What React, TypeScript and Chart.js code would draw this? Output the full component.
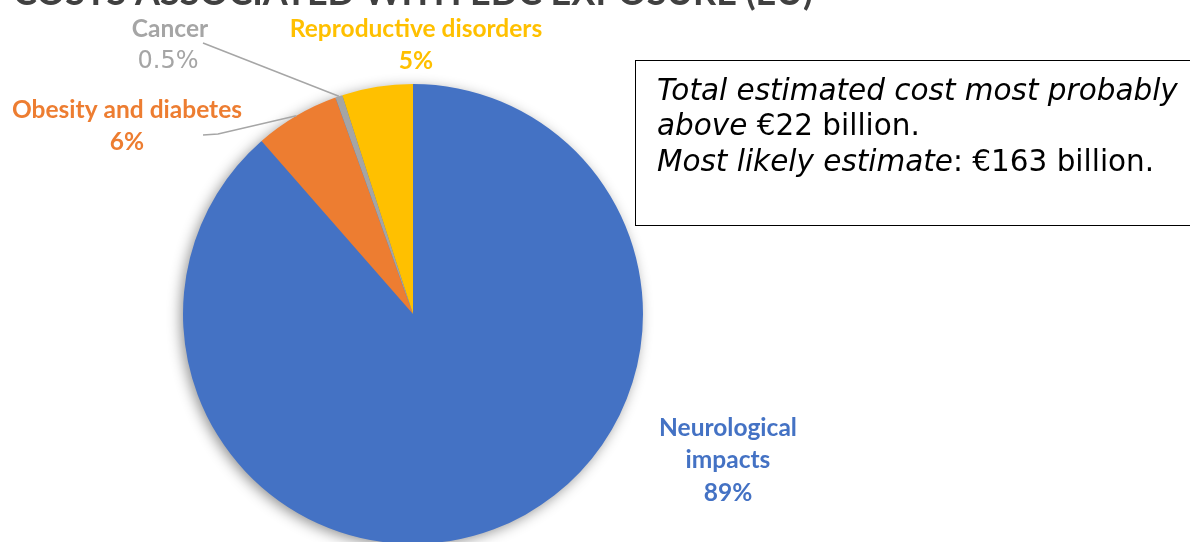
import React, { useEffect, useRef } from "react";
import { Chart, registerables } from "chart.js";

Chart.register(...registerables);

// ---- data ----
const categories = ["Neurological impacts", "Obesity and diabetes", "Cancer", "Reproductive disorders"];
const shares = [89, 6, 0.5, 5];
const shareLabels = ["89%", "6%", "0.5%", "5%"];
const sliceColors = ["#4472C4", "#ED7D31", "#A5A5A5", "#FFC000"];
const labelLines = [["Neurological", "impacts"], ["Obesity and diabetes"], ["Cancer"], ["Reproductive disorders"]];
const titleText = "COSTS ASSOCIATED WITH EDC EXPOSURE (EU)";
const noteLines: { t: string; i: boolean }[][] = [
  [{ t: "Total estimated cost most probably", i: true }],
  [{ t: "above", i: true }, { t: " €22 billion.", i: false }],
  [{ t: "Most likely estimate", i: true }, { t: ": €163 billion.", i: false }],
];

const W = 1190;
const H = 560;

const decorPlugin = {
  id: "decor",
  beforeDatasetsDraw(chart: any) {
    const ctx = chart.ctx;
    const arc = chart.getDatasetMeta(0).data[0];
    if (!arc) return;
    ctx.save();
    ctx.shadowColor = "rgba(0,0,0,0.45)";
    ctx.shadowBlur = 14;
    ctx.shadowOffsetX = -3;
    ctx.shadowOffsetY = 3;
    ctx.fillStyle = "#4472C4";
    ctx.beginPath();
    ctx.arc(arc.x, arc.y, arc.outerRadius - 1, 0, Math.PI * 2);
    ctx.fill();
    ctx.restore();
  },
  afterDatasetsDraw(chart: any) {
    const ctx = chart.ctx;
    const meta = chart.getDatasetMeta(0);
    const edge = (i: number) => {
      const a = meta.data[i];
      const mid = (a.startAngle + a.endAngle) / 2;
      return [a.x + a.outerRadius * Math.cos(mid), a.y + a.outerRadius * Math.sin(mid)];
    };
    ctx.save();
    // leader lines
    ctx.strokeStyle = "#A6A6A6";
    ctx.lineWidth = 1.5;
    let p = edge(2);
    ctx.beginPath();
    ctx.moveTo(203, 43);
    ctx.lineTo(p[0], p[1]);
    ctx.stroke();
    p = edge(1);
    ctx.beginPath();
    ctx.moveTo(203, 135);
    ctx.lineTo(218, 134);
    ctx.lineTo(p[0], p[1]);
    ctx.stroke();

    // data labels
    const anchors = [
      [728, 428],
      [127, 110],
      [170, 29],
      [416, 29],
    ];
    const lh = 32.5;
    ctx.textAlign = "center";
    ctx.textBaseline = "middle";
    for (let i = 0; i < categories.length; i++) {
      const [cx, cy] = anchors[i];
      ctx.fillStyle = sliceColors[i];
      ctx.font = "bold 24.5px Lato";
      const lines = labelLines[i];
      lines.forEach((ln, k) => ctx.fillText(ln, cx, cy + k * lh));
      if (i === 2) {
        ctx.font = "24px 'DejaVu Sans'";
        ctx.fillText(shareLabels[i], cx - 2, cy + lines.length * lh);
      } else {
        ctx.fillText(shareLabels[i], cx, cy + lines.length * lh);
      }
    }

    // title (cut off at top)
    ctx.fillStyle = "#404040";
    ctx.textAlign = "left";
    ctx.textBaseline = "alphabetic";
    ctx.font = "bold 36px Lato";
    const tw = ctx.measureText(titleText).width;
    const ts = (36 * 800) / tw;
    ctx.font = `bold ${ts}px Lato`;
    ctx.fillText(titleText, 13, 5);

    // note box
    ctx.fillStyle = "#ffffff";
    ctx.fillRect(636, 61, 600, 165);
    ctx.strokeStyle = "#000000";
    ctx.lineWidth = 1;
    ctx.strokeRect(635.5, 60.5, 600, 165);
    ctx.font = "italic 24px 'DejaVu Sans'";
    const w1 = ctx.measureText(noteLines[0][0].t).width;
    const fs = (24 * 521) / w1;
    ctx.fillStyle = "#000000";
    ctx.textBaseline = "middle";
    noteLines.forEach((line, k) => {
      let x = 657;
      const y = 92 + k * 35.5;
      line.forEach((seg) => {
        ctx.font = `${seg.i ? "italic " : ""}${fs}px 'DejaVu Sans'`;
        ctx.fillText(seg.t, x, y);
        x += ctx.measureText(seg.t).width;
      });
    });
    ctx.restore();
  },
};

export default function App() {
  const ref = useRef<HTMLCanvasElement | null>(null);
  useEffect(() => {
    if (!ref.current) return;
    const chart = new Chart(ref.current, {
      type: "pie",
      data: {
        labels: categories,
        datasets: [
          {
            data: shares,
            backgroundColor: sliceColors,
            borderWidth: 0,
          },
        ],
      },
      options: {
        responsive: false,
        animation: false,
        layout: { padding: { left: 183, right: W - 643, top: 84, bottom: H - 544 } },
        plugins: { legend: { display: false }, tooltip: { enabled: false }, title: { display: false } },
      },
      plugins: [decorPlugin],
    });
    return () => chart.destroy();
  }, []);
  return (
    <div style={{ position: "absolute", left: 0, top: 0, width: 1190, height: 542, overflow: "hidden", background: "#fff" }}>
      <canvas ref={ref} width={W} height={H} style={{ display: "block" }} />
    </div>
  );
}
